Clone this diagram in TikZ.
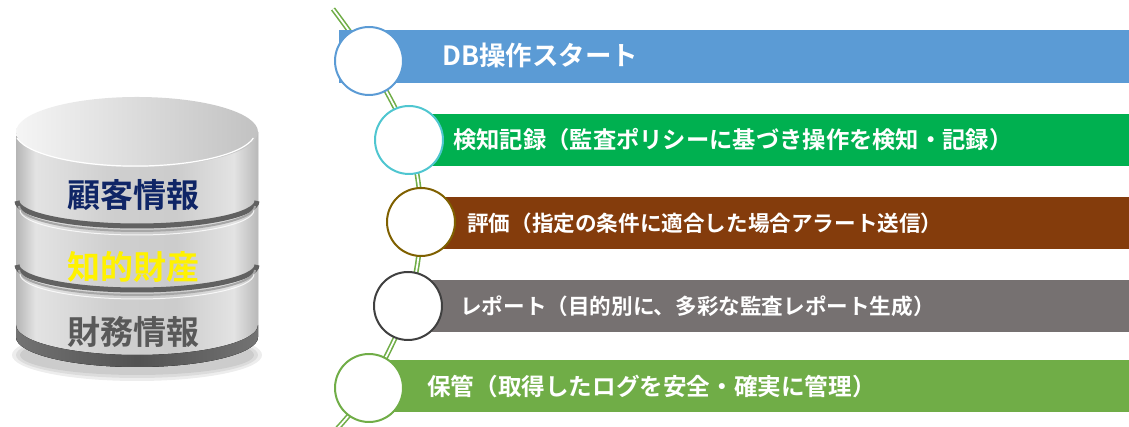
\documentclass[tikz,border=0pt]{standalone}
\usepackage{fontspec}
\setmainfont{Noto Sans CJK JP}[BoldFont={Noto Sans CJK JP Bold}]
\usetikzlibrary{backgrounds}

\definecolor{stepBlue}{HTML}{5B9BD5}
\definecolor{stepGreen}{HTML}{00B050}
\definecolor{ringTeal}{HTML}{4FC6D0}
\definecolor{stepBrown}{HTML}{843C0C}
\definecolor{ringOlive}{HTML}{7F6000}
\definecolor{stepGray}{HTML}{767171}
\definecolor{ringDark}{HTML}{404040}
\definecolor{stepLeaf}{HTML}{70AD47}
\definecolor{dbNavy}{HTML}{0F2566}
\definecolor{dbGray}{HTML}{595959}

% metal look of the drum body
\pgfdeclarehorizontalshading{drum}{100bp}{color(0bp)=(gray!60); color(25bp)=(gray!58);
  color(29bp)=(gray!22); color(45bp)=(gray!38); color(58bp)=(gray!40);
  color(70bp)=(gray!22); color(75bp)=(gray!55); color(100bp)=(gray!55)}
\pgfdeclarehorizontalshading{drumbase}{100bp}{color(0bp)=(black!55); color(25bp)=(black!55);
  color(50bp)=(black!68); color(75bp)=(black!55); color(100bp)=(black!55)}

\begin{document}
\begin{tikzpicture}[x=1pt,y=1pt,
    ring/.style={circle,draw=#1,line width=2pt,fill=white,minimum size=68pt,inner sep=0pt},
    bar/.style={fill=#1,minimum height=52pt,inner sep=0pt,anchor=west},
    steptext/.style={anchor=west,inner sep=0pt,text=white,font=\bfseries\fontsize{#1}{26}\selectfont},
    dblabel/.style={inner sep=0pt,font=\bfseries\fontsize{33}{38}\selectfont},
    trail/.style={draw=stepLeaf,line width=1.6pt,double=white,double distance=1.8pt},
    groove/.style={line width=5pt,black!62}]
  \useasboundingbox (0,0) rectangle (1129,427);

  % database drum
  \foreach \r/\s in {125/26,121/23,117/20}
    \fill[black,opacity=0.07] (137,72) ellipse[x radius=\r,y radius=\s];
  \fill[shading=drum] (16,295) -- (16,90) arc[start angle=180,end angle=360,x radius=121pt,y radius=30pt]
    -- (258,295) -- cycle;
  \fill[shading=drumbase] (16,102) arc[start angle=180,end angle=360,x radius=121pt,y radius=30pt]
    -- (258,90) arc[start angle=360,end angle=180,x radius=121pt,y radius=30pt] -- cycle;
  \shade[left color=gray!8,right color=gray!48] (137,295) ellipse[x radius=121,y radius=35];
  \draw[white,line width=1.2pt] (17,289) arc[start angle=190,end angle=350,x radius=120pt,y radius=34pt];
  \draw[groove] (17,226) arc[start angle=180,end angle=360,x radius=120pt,y radius=25pt];
  \draw[gray!70,line width=2pt] (19,221) arc[start angle=180,end angle=360,x radius=118pt,y radius=25pt];
  \draw[white,opacity=0.8,line width=1pt] (20,217) arc[start angle=180,end angle=360,x radius=117pt,y radius=25pt];
  \draw[groove] (17,162) arc[start angle=180,end angle=360,x radius=120pt,y radius=25pt];
  \draw[gray!70,line width=2pt] (19,157) arc[start angle=180,end angle=360,x radius=118pt,y radius=25pt];
  \draw[white,opacity=0.8,line width=1pt] (20,153) arc[start angle=180,end angle=360,x radius=117pt,y radius=25pt];

  \node[dblabel,text=dbNavy] (info1) at (133,232) {顧客情報};
  \node[dblabel,text=yellow] (info2) at (133,160) {知的財産};
  \node[dblabel,text=dbGray] (info3) at (133,95) {財務情報};

  % step bars
  \node[bar=stepBlue,minimum width=790pt,minimum height=53pt] (b1) at (339,370.5) {};
  \node[bar=stepGreen,minimum width=720pt] (b2) at (409,287) {};
  \node[bar=stepBrown,minimum width=708pt] (b3) at (421,204) {};
  \node[bar=stepGray,minimum width=721pt] (b4) at (408,121) {};
  \node[bar=stepLeaf,minimum width=760pt] (b5) at (369,41) {};

  % step circles
  \node[ring=stepBlue] (c1) at (369,366) {};
  \node[ring=ringTeal] (c2) at (409,287) {};
  \node[ring=ringOlive] (c3) at (421,205) {};
  \node[ring=ringDark] (c4) at (408,121) {};
  \node[ring=stepLeaf] (c5) at (369,39) {};

  \node[steptext=26.5] (t1) at (442,372) {DB操作スタート};
  \node[steptext=23.3] (t2) at (453,287) {検知記録（監査ポリシーに基づき操作を検知・記録）};
  \node[steptext=21.6] (t3) at (467,204) {評価（指定の条件に適合した場合アラート送信）};
  \node[steptext=21.6] (t4) at (460,121) {レポート（目的別に、多彩な監査レポート生成）};
  \node[steptext=23.6] (t5) at (427,41) {保管（取得したログを安全・確実に管理）};

  % double line running behind the circles
  \coordinate (trailtop) at (333,418);
  \coordinate (trailend) at (335,-4);
  \begin{scope}[on background layer]
    \draw[trail] plot[smooth,tension=0.55] coordinates
      {(trailtop) (c1.center) (c2.center) (c3.center) (c4.center) (c5.center) (trailend)};
  \end{scope}
\end{tikzpicture}
\end{document}
